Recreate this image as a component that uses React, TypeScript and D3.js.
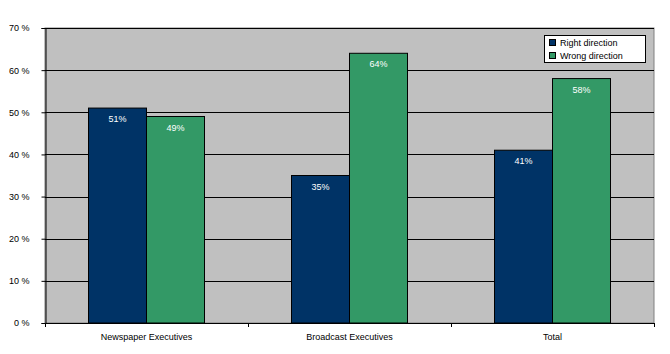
import React, { useEffect, useRef } from "react";
import * as d3 from "d3";

const categories = ["Newspaper Executives", "Broadcast Executives", "Total"];
const seriesNames = ["Right direction", "Wrong direction"];
const rightDirection = [51, 35, 41];
const wrongDirection = [49, 64, 58];
const yTicks = [0, 10, 20, 30, 40, 50, 60, 70];
const colors = ["#003366", "#339966"];

export default function App() {
  const svgRef = useRef<SVGSVGElement>(null);

  useEffect(() => {
    const svg = d3.select(svgRef.current);
    svg.selectAll("*").remove();
    const W = 670, H = 354;
    const m = { left: 45, right: 16, top: 28, bottom: 31 };
    const font = "Liberation Sans, Arial, sans-serif";

    const x = d3.scaleBand().domain(categories).range([m.left, W - m.right]);
    const x1 = d3.scaleBand().domain(seriesNames).range([0, x.bandwidth()]).paddingOuter(0.75);
    const y = d3.scaleLinear().domain([0, 70]).range([H - m.bottom, m.top]);

    // plot area
    svg.append("rect")
      .attr("x", m.left).attr("y", m.top)
      .attr("width", W - m.left - m.right).attr("height", H - m.top - m.bottom)
      .attr("fill", "#c0c0c0").attr("stroke", "#808080");

    // gridlines
    svg.append("g").selectAll("line").data(yTicks.slice(1)).join("line")
      .attr("x1", m.left).attr("x2", W - m.right)
      .attr("y1", d => Math.round(y(d)) + 0.5).attr("y2", d => Math.round(y(d)) + 0.5)
      .attr("stroke", "#000");

    // y axis
    const yAxis = svg.append("g").attr("transform", `translate(${m.left + 0.5},0)`)
      .call(d3.axisLeft(y).tickValues(yTicks).tickSize(4).tickFormat(d => `${d} %`));
    yAxis.select(".domain").attr("stroke", "#000");
    yAxis.selectAll("text").attr("font-family", font).attr("font-size", 9).attr("fill", "#000").attr("dx", -9);

    // x axis
    const xAxis = svg.append("g").attr("transform", `translate(0,${H - m.bottom + 0.5})`)
      .call(d3.axisBottom(x).tickSize(0).tickPadding(10));
    xAxis.select(".domain").remove();
    xAxis.selectAll("text").attr("font-family", font).attr("font-size", 9).attr("fill", "#000");
    svg.append("line")
      .attr("x1", m.left).attr("x2", W - m.right)
      .attr("y1", H - m.bottom + 0.5).attr("y2", H - m.bottom + 0.5).attr("stroke", "#000");
    const edges = [...categories.map(c => x(c)!), W - m.right];
    svg.append("g").selectAll("line").data(edges).join("line")
      .attr("x1", d => Math.round(d) + 0.5).attr("x2", d => Math.round(d) + 0.5)
      .attr("y1", H - m.bottom).attr("y2", H - m.bottom + 4).attr("stroke", "#000");

    // bars
    const series = [rightDirection, wrongDirection];
    series.forEach((vals, si) => {
      const g = svg.append("g");
      g.selectAll("rect").data(vals).join("rect")
        .attr("x", (d, i) => x(categories[i])! + x1(seriesNames[si])!)
        .attr("y", d => y(d))
        .attr("width", x1.bandwidth())
        .attr("height", d => y(0) - y(d))
        .attr("fill", colors[si]).attr("stroke", "#000");
      g.selectAll("text").data(vals).join("text")
        .attr("x", (d, i) => x(categories[i])! + x1(seriesNames[si])! + x1.bandwidth() / 2)
        .attr("y", d => y(d) + 14)
        .attr("text-anchor", "middle")
        .attr("font-family", font).attr("font-size", 9).attr("fill", "#fff")
        .text(d => `${d}%`);
    });

    // legend
    const lg = svg.append("g").attr("transform", "translate(544,35)");
    lg.append("rect").attr("x", 0.5).attr("y", 0.5).attr("width", 101).attr("height", 27)
      .attr("fill", "#fff").attr("stroke", "#000");
    seriesNames.forEach((s, i) => {
      lg.append("rect").attr("x", 5.5).attr("y", 4.5 + i * 13).attr("width", 6).attr("height", 6)
        .attr("fill", colors[i]).attr("stroke", "#000");
      lg.append("text").attr("x", 16).attr("y", 11 + i * 13)
        .attr("font-family", font).attr("font-size", 9).attr("fill", "#000").text(s);
    });
  }, []);

  return <svg ref={svgRef} width={670} height={354} style={{ position: "absolute", left: 0, top: 0, background: "#fff" }} />;
}
